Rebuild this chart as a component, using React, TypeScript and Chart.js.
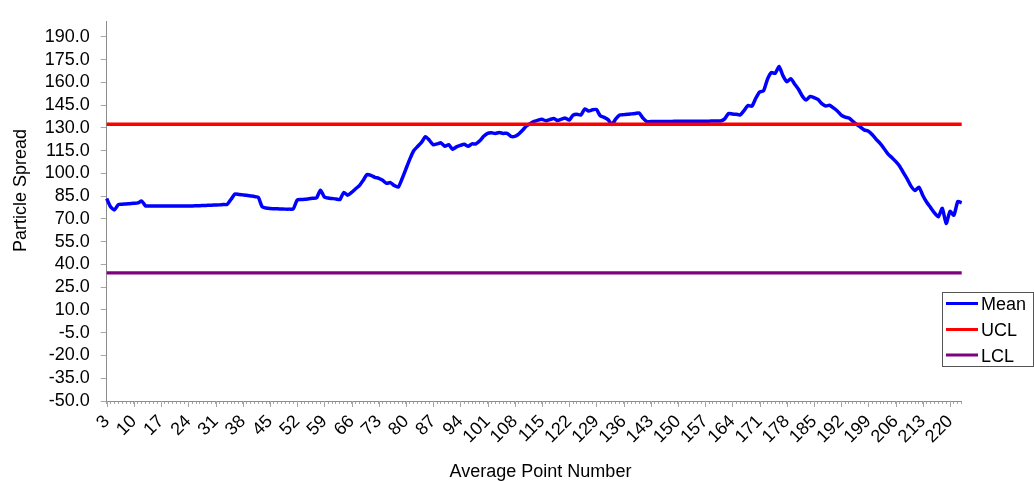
import React, { useEffect, useRef } from 'react';
import { Chart, registerables } from 'chart.js';

Chart.register(...registerables);

const categories = [
  3, 4, 5, 6, 7, 8, 9, 10, 11, 12,
  13, 14, 15, 16, 17, 18, 19, 20, 21, 22,
  23, 24, 25, 26, 27, 28, 29, 30, 31, 32,
  33, 34, 35, 36, 37, 38, 39, 40, 41, 42,
  43, 44, 45, 46, 47, 48, 49, 50, 51, 52,
  53, 54, 55, 56, 57, 58, 59, 60, 61, 62,
  63, 64, 65, 66, 67, 68, 69, 70, 71, 72,
  73, 74, 75, 76, 77, 78, 79, 80, 81, 82,
  83, 84, 85, 86, 87, 88, 89, 90, 91, 92,
  93, 94, 95, 96, 97, 98, 99, 100, 101, 102,
  103, 104, 105, 106, 107, 108, 109, 110, 111, 112,
  113, 114, 115, 116, 117, 118, 119, 120, 121, 122,
  123, 124, 125, 126, 127, 128, 129, 130, 131, 132,
  133, 134, 135, 136, 137, 138, 139, 140, 141, 142,
  143, 144, 145, 146, 147, 148, 149, 150, 151, 152,
  153, 154, 155, 156, 157, 158, 159, 160, 161, 162,
  163, 164, 165, 166, 167, 168, 169, 170, 171, 172,
  173, 174, 175, 176, 177, 178, 179, 180, 181, 182,
  183, 184, 185, 186, 187, 188, 189, 190, 191, 192,
  193, 194, 195, 196, 197, 198, 199, 200, 201, 202,
  203, 204, 205, 206, 207, 208, 209, 210, 211, 212,
  213, 214, 215, 216, 217, 218, 219, 220, 221, 222,
  223,
];

const meanValues = [
  83.5, 78, 76, 79.5, 79.7, 79.9, 80.1, 80.3, 80.6, 81.8,
  78.6, 78.6, 78.6, 78.5, 78.5, 78.5, 78.5, 78.5, 78.5, 78.5,
  78.6, 78.6, 78.6, 78.7, 78.8, 78.9, 79.0, 79.1, 79.2, 79.3,
  79.5, 79.6, 83, 86.4, 86.2, 85.9, 85.6, 85.2, 84.8, 84.3,
  78, 77.2, 76.9, 76.8, 76.7, 76.6, 76.5, 76.5, 76.6, 82.5,
  82.8, 83, 83.3, 83.6, 83.9, 89, 84.5, 83.8, 83.5, 83.2,
  82.8, 87.5, 85.6, 87.5, 89.8, 92, 95.5, 99.3, 98.8, 97.5,
  96.8, 95.5, 93.5, 94, 92, 91, 96.5, 103, 109.5, 115,
  117.8, 120.5, 124.3, 122, 119, 119.5, 120.2, 118, 119, 116,
  117.5, 118.5, 119.2, 118, 119.5, 119.5, 121.5, 124.5, 126.5, 126.8,
  126.4, 127, 126.4, 126.5, 124.5, 124.5, 126, 128.5, 131.3, 133,
  134.3, 135.2, 135.7, 134.8, 135.5, 136.3, 135, 135.8, 136.5, 135.2,
  138.5, 139, 138.5, 142.5, 141.2, 142, 142.2, 138, 137, 135.5,
  132.3, 136, 138.5, 138.8, 139, 139.3, 139.6, 139.9, 136.5, 134.2,
  134.2, 134.2, 134.3, 134.3, 134.3, 134.3, 134.4, 134.4, 134.4, 134.4,
  134.5, 134.5, 134.5, 134.5, 134.5, 134.5, 134.6, 134.6, 134.6, 136,
  139.5, 139.2, 139, 138.6, 141.5, 144.8, 144.3, 149.5, 153.7, 154.5,
  162, 166.5, 166, 170.5, 164.5, 160.5, 162.5, 159, 155.5, 151,
  148.4, 150.8, 150, 148.8, 146, 144.5, 145, 143.2, 141.2, 138.5,
  137.2, 136.6, 134.3, 132.3, 130.5, 128.6, 127.9, 125.5, 122.5, 119.8,
  116.5, 113, 110.5, 108, 105, 100.5, 96.3, 91.5, 88.8, 91,
  85.5, 81, 77.5, 74, 71.5, 77, 67, 75, 72.5, 81.5,
  80.7,
];

const uclValue = 132.5;
const lclValue = 34.5;

const xTickLabels = [3, 10, 17, 24, 31, 38, 45, 52, 59, 66, 73, 80, 87, 94, 101, 108, 115, 122, 129, 136, 143, 150, 157, 164, 171, 178, 185, 192, 199, 206, 213, 220];
const yTickValues = [-50, -35, -20, -5, 10, 25, 40, 55, 70, 85, 100, 115, 130, 145, 160, 175, 190];

const seriesNames = ['Mean', 'UCL', 'LCL'];
const xTitle = 'Average Point Number';
const yTitle = 'Particle Spread';

const FONT = '"Liberation Sans", Arial, sans-serif';

const overlayPlugin = {
  id: 'overlay',
  afterDraw(chart: any) {
    const { ctx, chartArea } = chart;
    const xScale = chart.scales.x;
    ctx.save();
    // major tick marks on the category axis
    ctx.strokeStyle = '#a6a6a6';
    ctx.lineWidth = 1;
    categories.forEach((c, i) => {
      if (xTickLabels.includes(c)) {
        const px = Math.round(xScale.getPixelForValue(i)) + 0.5;
        ctx.beginPath();
        ctx.moveTo(px, chartArea.bottom);
        ctx.lineTo(px, chartArea.bottom + 6);
        ctx.stroke();
      }
    });
    // axis titles
    ctx.fillStyle = '#000';
    ctx.font = `18px ${FONT}`;
    ctx.textAlign = 'center';
    ctx.textBaseline = 'alphabetic';
    ctx.fillText(xTitle, 540.5, 476.5);
    ctx.save();
    ctx.translate(25.5, 190.5);
    ctx.rotate(-Math.PI / 2);
    ctx.fillText(yTitle, 0, 0);
    ctx.restore();
    // legend
    ctx.fillStyle = '#fff';
    ctx.fillRect(942, 292, 91, 74);
    ctx.strokeStyle = '#555';
    ctx.lineWidth = 1;
    ctx.strokeRect(942.5, 292.5, 91, 74);
    const baselines = [310, 336, 361.5];
    chart.data.datasets.forEach((ds: any, i: number) => {
      const by = baselines[i];
      ctx.strokeStyle = ds.borderColor;
      ctx.lineWidth = 3;
      ctx.beginPath();
      ctx.moveTo(946, by - 6.5);
      ctx.lineTo(978, by - 6.5);
      ctx.stroke();
      ctx.fillStyle = '#000';
      ctx.textAlign = 'left';
      ctx.fillText(ds.label, 981, by);
    });
    ctx.restore();
  },
};

export default function App() {
  const canvasRef = useRef<HTMLCanvasElement | null>(null);

  useEffect(() => {
    const canvas = canvasRef.current;
    if (!canvas) return;
    const labels = categories.map(String);
    const chart = new Chart(canvas, {
      type: 'line',
      data: {
        labels,
        datasets: [
          {
            label: seriesNames[0],
            data: meanValues,
            borderColor: '#0000ff',
            backgroundColor: '#0000ff',
            borderWidth: 3.5,
            pointRadius: 0,
            tension: 0.2,
            order: 2,
          },
          {
            label: seriesNames[1],
            data: [
              { x: labels[0], y: uclValue },
              { x: labels[labels.length - 1], y: uclValue },
            ],
            borderColor: '#ff0000',
            backgroundColor: '#ff0000',
            borderWidth: 3.5,
            pointRadius: 0,
            order: 1,
          },
          {
            label: seriesNames[2],
            data: [
              { x: labels[0], y: lclValue },
              { x: labels[labels.length - 1], y: lclValue },
            ],
            borderColor: '#800080',
            backgroundColor: '#800080',
            borderWidth: 3.2,
            pointRadius: 0,
            order: 0,
          },
        ],
      },
      options: {
        responsive: false,
        animation: false,
        devicePixelRatio: 1,
        layout: { padding: { left: 0, top: 7, right: 72.3, bottom: 0 } },
        plugins: {
          legend: { display: false },
          tooltip: { enabled: false },
        },
        scales: {
          x: {
            type: 'category',
            offset: false,
            afterFit: (s: any) => {
              s.height = 80;
            },
            grid: {
              display: true,
              drawOnChartArea: false,
              drawTicks: true,
              tickLength: 3,
              tickColor: '#a6a6a6',
            },
            border: { display: true, color: '#8c8c8c', width: 1 },
            ticks: {
              autoSkip: false,
              minRotation: 45,
              maxRotation: 45,
              padding: 7,
              color: '#000',
              font: { family: FONT, size: 18 },
              callback: (_v: any, i: number) =>
                xTickLabels.includes(categories[i]) ? String(categories[i]) : '',
            },
          },
          y: {
            type: 'linear',
            min: -50,
            max: 200,
            afterFit: (s: any) => {
              s.width = 106.7;
            },
            afterBuildTicks: (s: any) => {
              s.ticks = yTickValues.map((v) => ({ value: v }));
            },
            grid: {
              display: true,
              drawOnChartArea: false,
              drawTicks: true,
              tickLength: 6,
              tickColor: '#a6a6a6',
            },
            border: { display: true, color: '#8c8c8c', width: 1 },
            ticks: {
              autoSkip: false,
              padding: 11,
              color: '#000',
              font: { family: FONT, size: 18 },
              callback: (v: any) => Number(v).toFixed(1),
            },
          },
        },
      },
      plugins: [overlayPlugin],
    });
    return () => chart.destroy();
  }, []);

  return (
    <div style={{ position: 'fixed', left: 0, top: 0, width: 1034, height: 481, background: '#fff' }}>
      <canvas ref={canvasRef} width={1034} height={481} style={{ display: 'block', width: 1034, height: 481 }} />
    </div>
  );
}
